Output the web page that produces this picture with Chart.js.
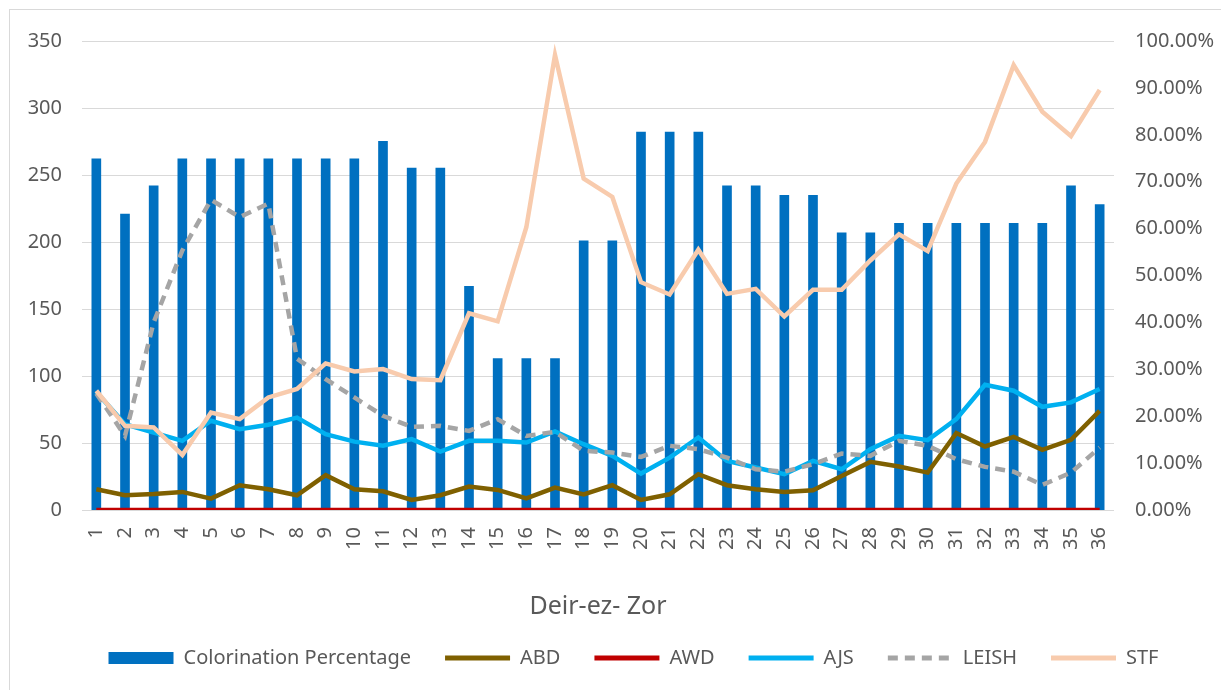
<!DOCTYPE html>
<html>
<head>
<meta charset="utf-8">
<script src="https://cdn.jsdelivr.net/npm/chart.js@4"></script>
<style>
  html,body{margin:0;padding:0;background:#fff;}
  #wrap{position:relative;width:1221px;height:690px;overflow:hidden;}
  #frame{position:absolute;left:9px;top:9px;width:1230px;height:700px;border-left:1px solid #d9d9d9;border-top:1px solid #d9d9d9;pointer-events:none;}
  canvas{position:absolute;left:0;top:0;}
</style>
</head>
<body>
<div id="wrap">
<canvas id="c" width="1221" height="690"></canvas>
<div id="frame"></div>
</div>
<script>
const categories = ['1','2','3','4','5','6','7','8','9','10','11','12','13','14','15','16','17','18','19','20','21','22','23','24','25','26','27','28','29','30','31','32','33','34','35','36'];

// Colorination Percentage (%), right axis
const colorination = [74.9,63.1,69.1,74.9,74.9,74.9,74.9,74.9,74.9,74.9,78.6,72.9,72.9,47.7,32.3,32.3,32.3,57.4,57.4,80.6,80.6,80.6,69.1,69.1,67.1,67.1,59.1,59.1,61.1,61.1,61.1,61.1,61.1,61.1,69.1,65.1];

// Counts, left axis
const abd = [15.5,11,12,13.5,8.5,18.5,15.5,11,26,15.5,14,7.5,11,17.5,15,8.7,16.7,11.7,18.5,7.5,11.7,26.7,18.5,15.5,13.5,14.7,25.4,35.9,32.4,27.9,57.4,47.4,54.6,44.9,52.4,74];
const awd = [0,0,0,0,0,0,0,0,0,0,0,0,0,0,0,0,0,0,0,0,0,0,0,0,0,0,0,0,0,0,0,0,0,0,0,0];
const ajs = [88,64,57.8,51.6,66.6,60.3,63.6,69,56.6,51,47.9,52.9,43.6,51.6,51.6,50.3,58.6,49.1,40.4,27.2,39.1,54.1,36.6,31.7,26.7,36.6,30.4,45.4,55.3,52.1,67.8,93.5,89,77,80.3,90.3];
const leish = [87,55.3,140,193.7,231.5,218.6,228.6,113,97.7,84,70.3,62,62.8,59,67.8,55.3,58.3,44.1,42.9,39.6,47.9,45.4,39.1,30.4,28.6,34.2,42.1,40.4,51.6,47.9,37.9,32.2,28.6,18.7,27.9,46.6];
const stf = [89,62.8,61.6,41.1,72.8,67.8,84,90.3,109.4,103.4,105.2,97.7,96.9,146.8,140.8,211,339.6,247.3,233.6,170,160.8,194.2,161.3,165,144.4,164.3,164.3,186.2,205.7,193.2,243.6,274.7,332,297.2,279,313.4];

const leftTicks = [0,50,100,150,200,250,300,350];
const rightTicks = [0,10,20,30,40,50,60,70,80,90,100];

const FONT = "'Noto Sans', 'Open Sans', sans-serif";
const TXT = '#595959';

const shiftLegend = {
  id:'shiftLegend',
  afterLayout(chart){
    const lg = chart.legend;
    if (lg) { lg.left += 23; lg.right += 23; }
  }
};

const ctx = document.getElementById('c').getContext('2d');
new Chart(ctx, {
  data: {
    labels: categories,
    datasets: [
      {type:'bar', label:'Colorination Percentage', data: colorination, yAxisID:'y1',
       backgroundColor:'#0070C0', borderWidth:0, barThickness:9, order:10},
      {type:'line', label:'ABD', data: abd, yAxisID:'y', borderColor:'#7F6000', backgroundColor:'#7F6000',
       borderWidth:4.5, pointRadius:0, tension:0, order:5},
      {type:'line', label:'AWD', data: awd, yAxisID:'y', borderColor:'#C00000', backgroundColor:'#C00000',
       borderWidth:4.5, pointRadius:0, tension:0, order:0},
      {type:'line', label:'AJS', data: ajs, yAxisID:'y', borderColor:'#00B0F0', backgroundColor:'#00B0F0',
       borderWidth:4.5, pointRadius:0, tension:0, order:3},
      {type:'line', label:'LEISH', data: leish, yAxisID:'y', borderColor:'#A5A5A5', backgroundColor:'#A5A5A5',
       borderWidth:4.5, borderDash:[10,7], pointRadius:0, tension:0, order:2},
      {type:'line', label:'STF', data: stf, yAxisID:'y', borderColor:'#F8CBAD', backgroundColor:'#F8CBAD',
       borderWidth:4.5, pointRadius:0, tension:0, order:1}
    ]
  },
  plugins:[shiftLegend],
  options: {
    responsive:false,
    animation:false,
    devicePixelRatio:1,
    layout:{padding:{left:0, right:0, top:41, bottom:12}},
    plugins:{
      tooltip:{enabled:false},
      legend:{
        position:'bottom',
        labels:{
          font:{family:FONT, size:20},
          color:TXT,
          usePointStyle:true,
          pointStyleWidth:65,
          boxHeight:12,
          padding:34,
          generateLabels(chart){
            return chart.data.datasets.map((ds,i)=>({
              text: ds.label,
              fillStyle: ds.backgroundColor,
              strokeStyle: ds.type==='bar' ? ds.backgroundColor : ds.borderColor,
              lineWidth: ds.type==='bar' ? 0 : 5,
              lineDash: ds.borderDash || [],
              lineCap:'butt',
              pointStyle: ds.type==='bar' ? 'rect' : 'line',
              fontColor: TXT,
              hidden:false,
              datasetIndex:i
            }));
          }
        }
      }
    },
    scales:{
      x:{
        offset:true,
        grid:{display:false, drawTicks:false},
        border:{display:false},
        ticks:{font:{family:FONT, size:20}, color:TXT, minRotation:90, maxRotation:90, padding:17, autoSkip:false},
        title:{display:true, text:'Deir-ez- Zor', font:{family:FONT, size:25, lineHeight:1}, color:TXT, padding:{top:0,bottom:-5}},
        afterFit(s){ s.height = 104; }
      },
      y:{
        position:'left', min:0, max:350,
        afterBuildTicks(s){ s.ticks = leftTicks.map(v=>({value:v})); },
        grid:{color:'#d9d9d9', lineWidth:1, drawTicks:false},
        border:{display:false},
        ticks:{font:{family:FONT, size:20}, color:TXT, padding:20},
        afterFit(s){ s.width = 82; }
      },
      y1:{
        position:'right', min:0, max:100,
        afterBuildTicks(s){ s.ticks = rightTicks.map(v=>({value:v})); },
        grid:{display:false, drawTicks:false},
        border:{display:false},
        ticks:{font:{family:FONT, size:20}, color:TXT, padding:21, callback:v=>v.toFixed(2)+'%'},
        afterFit(s){ s.width = 107; }
      }
    }
  }
});
</script>
</body>
</html>
